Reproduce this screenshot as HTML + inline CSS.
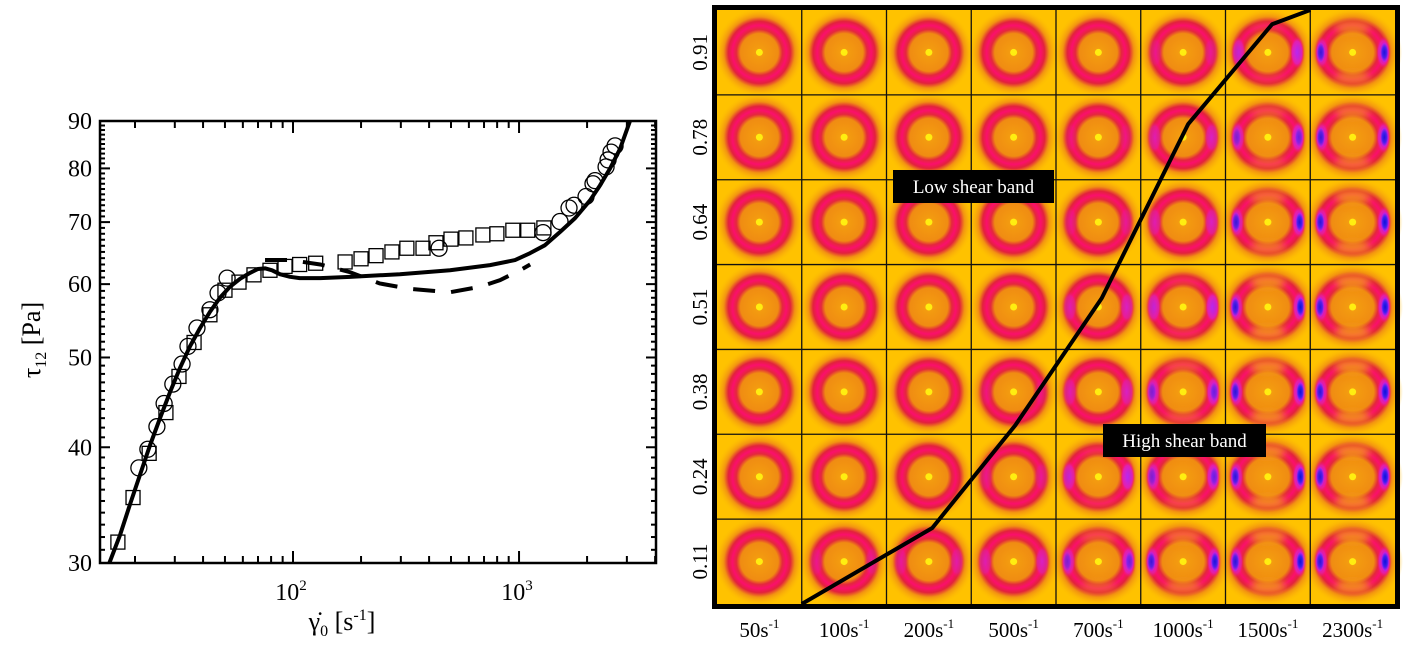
<!DOCTYPE html>
<html><head><meta charset="utf-8"><style>
html,body{margin:0;padding:0;background:#fff;}
svg{display:block;font-family:"Liberation Serif",serif;}
</style></head><body>
<svg id="fig" width="1404" height="645" viewBox="0 0 1404 645" xmlns="http://www.w3.org/2000/svg">
<defs>
<radialGradient id="ringGrad" cx="0.5" cy="0.5" r="0.5">
<stop offset="0" stop-color="#f7a412"/>
<stop offset="0.12" stop-color="#f39a10"/>
<stop offset="0.42" stop-color="#f08c12"/>
<stop offset="0.51" stop-color="#e4283c"/>
<stop offset="0.60" stop-color="#fb0f6c"/>
<stop offset="0.69" stop-color="#e2223c"/>
<stop offset="0.79" stop-color="#f29212"/>
<stop offset="1" stop-color="#ffc400" stop-opacity="0"/>
</radialGradient>
<radialGradient id="lobeGrad" cx="0.5" cy="0.5" r="0.5">
<stop offset="0" stop-color="#1010d8"/>
<stop offset="0.45" stop-color="#3a20f0"/>
<stop offset="0.75" stop-color="#c020e0"/>
<stop offset="1" stop-color="#ff1070" stop-opacity="0"/>
</radialGradient>
<radialGradient id="magGrad" cx="0.5" cy="0.5" r="0.5">
<stop offset="0" stop-color="#c828f0"/>
<stop offset="0.7" stop-color="#e020b0"/>
<stop offset="1" stop-color="#ff1070" stop-opacity="0"/>
</radialGradient>
<filter id="soft" x="-50%" y="-50%" width="200%" height="200%"><feGaussianBlur stdDeviation="4"/></filter>
</defs>
<g id="left"></g>
<g id="right"></g>
</svg>
<script>
// ---------- Left chart data ----------
const squareX=[16.8,19.6,23.1,27.4,31.3,36.5,42.9,50.0,57.7,67.2,79.1,92.2,107,126,170,200,233,274,319,376,429,500,582,692,798,939,1093,1288];
const squareY=[31.6,35.3,39.4,43.6,47.7,51.9,55.6,59.1,60.3,61.4,62.1,62.7,63.0,63.2,63.4,63.9,64.4,65.0,65.6,65.6,66.5,67.1,67.3,67.8,68.0,68.6,68.6,69.0];
const circleX=[20.8,22.8,25.0,26.9,29.4,32.3,34.3,37.6,42.9,46.6,51.1,443,1277,1518,1664,1751,1979,2124,2169,2427,2477,2553,2660];
const circleY=[38.0,39.8,42.1,44.6,46.8,49.2,51.4,53.8,56.3,58.7,60.9,65.6,68.2,70.1,72.5,73.0,74.6,77.0,77.6,80.3,81.7,83.3,84.6];
const solidX=[15.4,17.2,19.0,21.0,23.3,25.8,28.6,31.6,35.0,38.8,42.9,47.5,52.6,58.3,64.5,70.0,75.2,80.8,87.5,97,107,132,179,297,495,744,960,1119,1303,1518,1770,2062,2282,2529,2799,3097];
const solidY=[30,32.2,34.7,37.3,40.2,43.0,45.9,48.7,51.4,53.8,56.0,58.0,59.6,60.8,61.7,62.3,62.4,62.1,61.5,61.1,60.9,60.9,61.1,61.5,62.1,62.9,63.7,64.8,66.1,68.3,70.7,73.9,76.7,80.0,84.0,90];
const dashX=[75.2,97,132,179,242,329,495,672,824,1010,1120];
const dashY=[63.7,63.7,63.0,61.8,60.1,59.3,58.8,59.6,60.6,62.1,63.0];
const yTickLabels=[30,40,50,60,70,80,90];
const xTickLabels=[100,1000];

// ---------- Right grid data ----------
const rateLabels=["50","100","200","500","700","1000","1500","2300"];
const posLabels=["0.91","0.78","0.64","0.51","0.38","0.24","0.11"];
const anisoRow1=[0,0,0,0,0,0.5,1.5,2.5];
const anisoRow2=[0,0,0,0,0.3,1,2,2.5];
const anisoRow3=[0,0,0,0,0.5,1,2.5,2.8];
const anisoRow4=[0,0,0,0,1,1.5,3,3];
const anisoRow5=[0,0,0,0.3,1,2,3,3];
const anisoRow6=[0,0,0,0.5,1.5,2,3,3];
const anisoRow7=[0,0.5,0.7,1,2,2.5,3,3];
const bandCol=[1.0,2.54,3.52,4.54,5.56,6.55,7.0];
const bandFrac=[0,0.128,0.301,0.515,0.808,0.976,1.0];

const NS="http://www.w3.org/2000/svg";
function mk(tag,attrs,parent){const e=document.createElementNS(NS,tag);for(const k in attrs)e.setAttribute(k,attrs[k]);parent.appendChild(e);return e;}

// ---------- Left chart ----------
const L=document.getElementById('left');
const PX0=100,PX1=656,PY0=121,PY1=563;
const LX0=Math.log10(14.0),LX1=Math.log10(4036);
function X(v){return PX0+(Math.log10(v)-LX0)/(LX1-LX0)*(PX1-PX0);}
function Y(v){return PY1-Math.log(v/30)/Math.log(3)*(PY1-PY0);}

const frame=mk('rect',{x:PX0,y:PY0,width:PX1-PX0,height:PY1-PY0,fill:'none',stroke:'#000','stroke-width':2.5},L);



for(let v=30;v<=90;v++){
  const y=Y(v);const len=(v%10===0)?10:5;
  const t1=mk('line',{x1:PX0,x2:PX0+len,y1:y,y2:y,stroke:'#000','stroke-width':2},L);
  
  
  const t2=mk('line',{x1:PX1,x2:PX1-len,y1:y,y2:y,stroke:'#000','stroke-width':2},L);
  
  
}
yTickLabels.forEach(v=>{
  const t=mk('text',{x:PX0-8,y:Y(v)+8,'text-anchor':'end','font-size':24},L);
  t.textContent=v;
  
  
});
for(let d=10;d<=1000;d*=10){
  for(let k=1;k<=9;k++){
    const v=d*k; if(v<14||v>4036)continue;
    const x=X(v);const len=(k===1)?12:7;
    const a=mk('line',{x1:x,x2:x,y1:PY1,y2:PY1-len,stroke:'#000','stroke-width':2},L);
    
    
    const b=mk('line',{x1:x,x2:x,y1:PY0,y2:PY0+len,stroke:'#000','stroke-width':2},L);
    
    
  }
}
xTickLabels.forEach(v=>{
  const t=mk('text',{x:X(v)-2,y:600,'text-anchor':'middle','font-size':24},L);
  t.textContent='10';
  const s=mk('tspan',{'font-size':15,dy:-10},t);s.textContent=String(Math.round(Math.log10(v)));
  
  
});
const xt=mk('text',{x:342,y:630,'text-anchor':'middle','font-size':26},L);
xt.innerHTML='γ̇<tspan font-size="16" dy="6">0</tspan><tspan dy="-6"> [s</tspan><tspan font-size="16" dy="-10">-1</tspan><tspan dy="10">]</tspan>';


const yt=mk('text',{x:0,y:0,'text-anchor':'middle','font-size':26,transform:'translate(40,340) rotate(-90)'},L);
yt.innerHTML='τ<tspan font-size="16" dy="6">12</tspan><tspan dy="-6"> [Pa]</tspan>';



const cp=mk('clipPath',{id:'plotClip'},document.querySelector('defs'));
mk('rect',{x:PX0,y:PY0,width:PX1-PX0,height:PY1-PY0},cp);
const plotG=mk('g',{'clip-path':'url(#plotClip)'},L);



squareX.forEach((v,i)=>{
  const r=mk('rect',{x:X(v)-7,y:Y(squareY[i])-7,width:14,height:14,fill:'none',stroke:'#000','stroke-width':1.3},plotG);
  
  
});
circleX.forEach((v,i)=>{
  const c=mk('circle',{cx:X(v),cy:Y(circleY[i]),r:8,fill:'none',stroke:'#000','stroke-width':1.3},plotG);
  
  
});
const sl=mk('polyline',{points:solidX.map((v,i)=>X(v)+','+Y(solidY[i])).join(' '),fill:'none',stroke:'#000','stroke-width':4,'stroke-linejoin':'round'},plotG);


const dl=mk('polyline',{points:dashX.map((v,i)=>X(v)+','+Y(dashY[i])).join(' '),fill:'none',stroke:'#000','stroke-width':4,'stroke-dasharray':'22 16'},plotG);



// ---------- Right grid ----------
const R=document.getElementById('right');
const GX0=717,GX1=1395,GY0=10,GY1=604;
const CW=(GX1-GX0)/8,RH=(GY1-GY0)/7;
const rows=[anisoRow1,anisoRow2,anisoRow3,anisoRow4,anisoRow5,anisoRow6,anisoRow7];
mk('rect',{x:GX0,y:GY0,width:GX1-GX0,height:GY1-GY0,fill:'#ffc400'},R);
rows.forEach((row,ri)=>{
  row.forEach((lv,ci)=>{
    const cx=GX0+CW*(ci+0.5),cy=GY0+RH*(ri+0.5);
    const g=mk('g',{},R);
    
    
    mk('rect',{x:GX0+CW*ci,y:GY0+RH*ri,width:CW,height:RH,fill:'#ffc200'},g);
    const rx=45*(1+0.04*lv),ry=45;
    mk('ellipse',{cx:cx,cy:cy,rx:rx,ry:ry,fill:'url(#ringGrad)'},g);
    if(lv>1.2){
      const fo=Math.min(0.85,(lv-1.2)*0.5);
      mk('ellipse',{cx:cx,cy:cy-25,rx:18,ry:7,fill:'#f49a14',opacity:fo,filter:'url(#soft)'},g);
      mk('ellipse',{cx:cx,cy:cy+25,rx:18,ry:7,fill:'#f49a14',opacity:fo,filter:'url(#soft)'},g);
    }
    if(lv>0.2){
      const mo=Math.min(1,lv/1.5);
      [-1,1].forEach(s=>{
        mk('ellipse',{cx:cx+s*(27+lv*1.5),cy:cy,rx:7,ry:16,fill:'url(#magGrad)',opacity:mo*(s>0?1:0.8)},g);
      });
    }
    if(lv>1.4){
      const bo=Math.min(1,(lv-1.4)/1.2);
      [-1,1].forEach(s=>{
        mk('ellipse',{cx:cx+s*(28+lv*1.5),cy:cy,rx:5,ry:12,fill:'url(#lobeGrad)',opacity:bo*(s>0?1:0.85)},g);
      });
    }
    mk('circle',{cx:cx,cy:cy,r:3.5,fill:'#ffee10'},g);
  });
});
for(let i=1;i<8;i++){
  const l=mk('line',{x1:GX0+CW*i,x2:GX0+CW*i,y1:GY0,y2:GY1,stroke:'#111','stroke-width':1.3},R);
  
  
}
for(let i=1;i<7;i++){
  const l=mk('line',{x1:GX0,x2:GX1,y1:GY0+RH*i,y2:GY0+RH*i,stroke:'#111','stroke-width':1.3},R);
  
  
}
const br=mk('rect',{x:GX0-2.5,y:GY0-2.5,width:GX1-GX0+5,height:GY1-GY0+5,fill:'none',stroke:'#000','stroke-width':5},R);



const bl=mk('polyline',{points:bandCol.map((c,i)=>(GX0+c*CW)+','+(GY1-bandFrac[i]*(GY1-GY0))).join(' '),fill:'none',stroke:'#000','stroke-width':4,'stroke-linejoin':'round'},R);



function bandLabel(x,y,w,txt,name){
  const g=mk('g',{},R);
  
  
  mk('rect',{x:x,y:y,width:w,height:33,fill:'#000'},g);
  const t=mk('text',{x:x+w/2,y:y+23,'text-anchor':'middle','font-size':19,fill:'#fff'},g);
  t.textContent=txt;
}
bandLabel(893,170,161,'Low shear band','low-shear-band-label');
bandLabel(1103,424,163,'High shear band','high-shear-band-label');

posLabels.forEach((p,i)=>{
  const cy=GY0+RH*(i+0.5);
  const t=mk('text',{x:0,y:0,'text-anchor':'middle','font-size':21,transform:'translate(707,'+cy+') rotate(-90)'},R);
  t.textContent=p;
  
  
});
rateLabels.forEach((r,i)=>{
  const t=mk('text',{x:GX0+CW*(i+0.5),y:637,'text-anchor':'middle','font-size':21},R);
  t.textContent=r+'s';
  const s=mk('tspan',{'font-size':13,dy:-9},t);s.textContent='-1';
  
  
});
</script>
</body></html>
